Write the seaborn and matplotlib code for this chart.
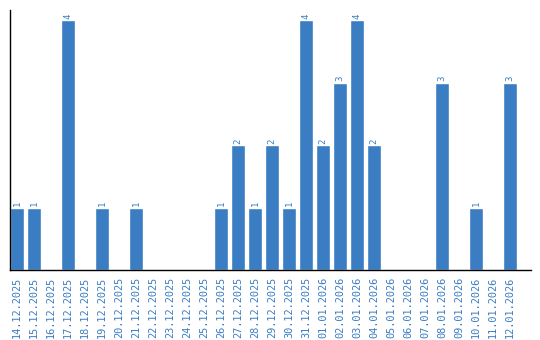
import matplotlib
matplotlib.use("Agg")
import matplotlib.pyplot as plt
import seaborn as sns
import pandas as pd

dates = ["14.12.2025", "15.12.2025", "16.12.2025", "17.12.2025", "18.12.2025",
         "19.12.2025", "20.12.2025", "21.12.2025", "22.12.2025", "23.12.2025",
         "24.12.2025", "25.12.2025", "26.12.2025", "27.12.2025", "28.12.2025",
         "29.12.2025", "30.12.2025", "31.12.2025", "01.01.2026", "02.01.2026",
         "03.01.2026", "04.01.2026", "05.01.2026", "06.01.2026", "07.01.2026",
         "08.01.2026", "09.01.2026", "10.01.2026", "11.01.2026", "12.01.2026"]
counts = [1, 1, 0, 4, 0, 1, 0, 1, 0, 0, 0, 0, 1, 2, 1, 2, 1, 4, 2, 3, 4, 2,
          0, 0, 0, 3, 0, 1, 0, 3]

BLUE = "#3a7dc2"
df = pd.DataFrame({"date": dates, "count": counts})

sns.set_style("white")
fig = plt.figure(figsize=(5.4, 3.4), dpi=100)
ax = fig.add_axes([10 / 540, 70 / 340, 521 / 540, 260 / 340])

sns.barplot(data=df, x="date", y="count", order=dates, color=BLUE,
            saturation=1, width=14 / 17, ax=ax, errorbar=None)

ax.set_xlim(-7 / 17, -7 / 17 + 521 / 17)
ax.set_ylim(0, 4 * 260 / 250)
ax.set_xlabel("")
ax.set_ylabel("")
ax.set_yticks([])
ax.tick_params(axis="x", length=0, pad=5)
for lbl in ax.get_xticklabels():
    lbl.set_rotation(90)
    lbl.set_color(BLUE)
    lbl.set_fontsize(7.4)
    lbl.set_family("DejaVu Sans Mono")

for side in ["top", "right"]:
    ax.spines[side].set_visible(False)
for side in ["left", "bottom"]:
    ax.spines[side].set_color("black")
    ax.spines[side].set_linewidth(1)

labels = [str(v) if v > 0 else "" for v in counts]
ax.bar_label(ax.containers[0], labels=labels, rotation=90, color=BLUE,
             fontsize=6.5, padding=1, family="DejaVu Sans Mono")

fig.savefig("out.png", dpi=100)
